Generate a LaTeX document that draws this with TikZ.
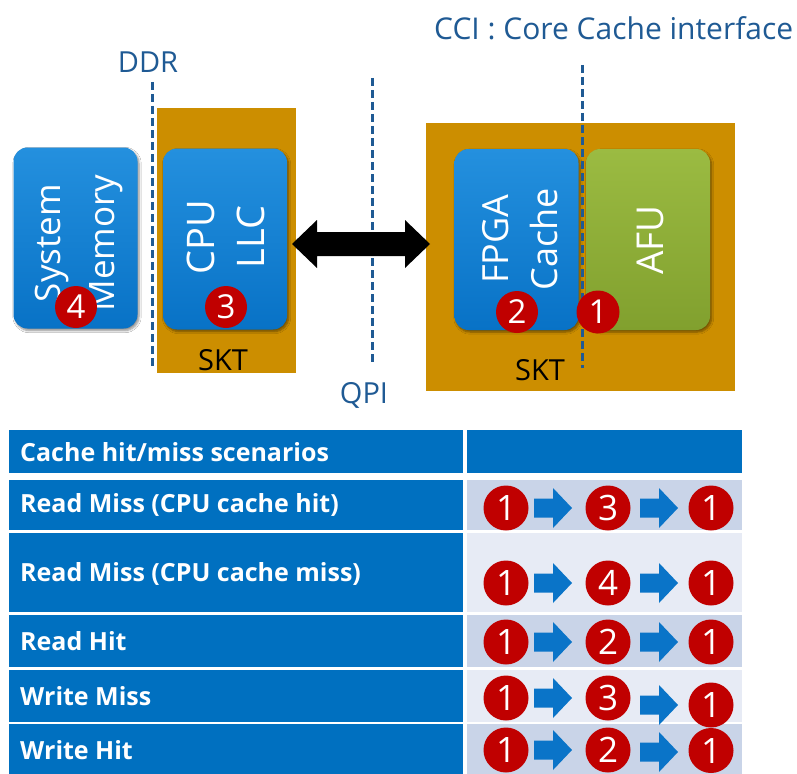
\documentclass[tikz,border=0pt]{standalone}
\usepackage{fontspec}
\setmainfont{Open Sans}
\usetikzlibrary{shadows.blur}

\definecolor{sktgold}{HTML}{CC8E00}
\definecolor{boxblue}{HTML}{0A7AD0}
\definecolor{boxblueL}{HTML}{2490DE}
\definecolor{boxblueD}{HTML}{0872C6}
\definecolor{afugreen}{HTML}{89A933}
\definecolor{afugreenL}{HTML}{9BBB42}
\definecolor{afugreenD}{HTML}{81A02E}
\definecolor{tblblue}{HTML}{0070C0}
\definecolor{rowdark}{HTML}{C9D4E8}
\definecolor{rowlight}{HTML}{E7EBF5}
\definecolor{numred}{HTML}{C00000}
\definecolor{busblue}{HTML}{1F5A94}
\definecolor{flowblue}{HTML}{0A74C8}

\tikzset{
  skt/.style={fill=sktgold},
  unitbox/.style={rounded corners=14pt, minimum width=124, minimum height=181,
    inner sep=0, blur shadow={shadow blur steps=6, shadow xshift=1.5pt,
    shadow yshift=-2pt, shadow opacity=45}},
  cacheunit/.style={unitbox, top color=boxblueL, middle color=boxblue, bottom color=boxblueD},
  afuunit/.style={unitbox, top color=afugreenL, middle color=afugreen, bottom color=afugreenD},
  unitlabel/.style={text=white, align=center, rotate=90, inner sep=0},
  busline/.style={draw=busblue, line width=3pt, dash pattern=on 8pt off 4pt},
  buslabel/.style={text=busblue, inner sep=0},
  sktlabel/.style={text=black, inner sep=0, font=\fontsize{29}{29}\selectfont},
  num/.style={circle, fill=numred, text=white, inner sep=0, minimum size=42,
    font=\fontsize{33}{33}\selectfont},
  tnum/.style={num, minimum size=45, font=\fontsize{35}{35}\selectfont},
  celltext/.style={text=white, anchor=west, inner sep=0,
    font=\fontsize{25}{26}\selectfont\bfseries},
  flowarrow/.pic={\fill[flowblue] (0,-9.5) -- (19,-9.5) -- (19,-20) -- (38,0)
    -- (19,20) -- (19,9.5) -- (0,9.5) -- cycle;}
}

\begin{document}
\begin{tikzpicture}[x=1pt, y=-1pt]
\useasboundingbox (0,0) rectangle (797,773);
\fill[white] (0,0) rectangle (797,773);

% sockets
\fill[skt] (157,108) rectangle (296,373);
\fill[skt] (426,123) rectangle (735,391);

% memory, caches and accelerator
\node[cacheunit] (mem) at (75.5,238) {};
\node[cacheunit] (llc) at (225,239) {};
\node[cacheunit] (fcache) at (516.5,239.5) {};
\node[afuunit] (afu) at (648,239.5) {};

\node[unitlabel, font=\fontsize{35}{54}\selectfont] (memtext) at (79,243) {System\\Memory};
\node[unitlabel, font=\fontsize{38}{50}\selectfont] (llctext) at (226,237) {CPU\\LLC};
\node[unitlabel, font=\fontsize{36}{49}\selectfont] (fctext) at (520,239) {FPGA\\Cache};
\node[unitlabel, font=\fontsize{37}{49}\selectfont] (afutext) at (650,240) {AFU};

% interface boundaries
\coordinate (ddrT) at (152,82);  \coordinate (ddrB) at (152,368);
\coordinate (qpiT) at (372,78);  \coordinate (qpiB) at (372,365);
\coordinate (cciT) at (582,65);  \coordinate (cciB) at (582,368);
\draw[busline] (ddrT) -- (ddrB);
\draw[busline] (qpiT) -- (qpiB);
\draw[busline] (cciT) -- (cciB);

\node[buslabel, anchor=base, font=\fontsize{29}{29}\selectfont] (ddr) at (148,73) {DDR};
\node[buslabel, anchor=base, font=\fontsize{29}{29}\selectfont] (qpi) at (364,403) {QPI};
\node[buslabel, anchor=base west, font=\fontsize{30}{30}\selectfont] (cci) at (434,40) {CCI : Core Cache interface};

% QPI link
\coordinate (qL) at (292,244);
\coordinate (qR) at (430,244);
\fill[black] (qL) -- ++(25,-24) -- ++(0,12) -- ++(88,0) -- ++(0,-12) -- (qR)
  -- ++(-25,24) -- ++(0,-12) -- ++(-88,0) -- ++(0,12) -- cycle;

\node[sktlabel, anchor=base] (skt1) at (223,370) {SKT};
\node[sktlabel, anchor=base] (skt2) at (540,380) {SKT};

% access points
\node[num] (p4) at (76,307) {4};
\node[num] (p3) at (226,307) {3};
\node[num] (p2) at (517,312) {2};
\node[num, minimum size=43] (p1) at (598,312) {1};

% scenario table
\fill[tblblue] (9,430) rectangle (463,473);
\fill[tblblue] (467,430) rectangle (742,473);
\fill[tblblue] (9,480) rectangle (463,530);   \fill[rowdark]  (467,480) rectangle (742,530);
\fill[tblblue] (9,533) rectangle (463,612);   \fill[rowlight] (467,533) rectangle (742,612);
\fill[tblblue] (9,615) rectangle (463,667);   \fill[rowdark]  (467,615) rectangle (742,667);
\fill[tblblue] (9,670) rectangle (463,722);   \fill[rowlight] (467,670) rectangle (742,722);
\fill[tblblue] (9,724) rectangle (463,780);   \fill[rowdark]  (467,724) rectangle (742,780);

\node[celltext] (h0) at (20,452) {Cache hit/miss scenarios};
\node[celltext] (h1) at (20,505) {Read Miss (CPU cache hit)};
\node[celltext] (h2) at (20,574) {Read Miss (CPU cache miss)};
\node[celltext] (h3) at (20,641) {Read Hit};
\node[celltext] (h4) at (20,696) {Write Miss};
\node[celltext] (h5) at (20,750) {Write Hit};

% row 1
\node[tnum] (a1) at (506,508) {1}; \pic at (534,508) {flowarrow};
\node[tnum] (a2) at (608,508) {3}; \pic at (640,508) {flowarrow};
\node[tnum] (a3) at (711,508) {1};
% row 2
\node[tnum] (b1) at (506,583) {1}; \pic at (534,583) {flowarrow};
\node[tnum] (b2) at (608,583) {4}; \pic at (640,583) {flowarrow};
\node[tnum] (b3) at (711,583) {1};
% row 3
\node[tnum] (c1) at (506,642) {1}; \pic at (534,642) {flowarrow};
\node[tnum] (c2) at (608,642) {2}; \pic at (640,642) {flowarrow};
\node[tnum] (c3) at (711,642) {1};
% row 4
\node[tnum] (d1) at (506,698) {1}; \pic at (534,698) {flowarrow};
\node[tnum] (d2) at (608,698) {3}; \pic at (640,705) {flowarrow};
\node[tnum] (d3) at (711,705) {1};
% row 5
\node[tnum] (e1) at (506,750) {1}; \pic at (534,750) {flowarrow};
\node[tnum] (e2) at (608,750) {2}; \pic at (640,752) {flowarrow};
\node[tnum] (e3) at (711,750.5) {1};
\end{tikzpicture}
\end{document}
